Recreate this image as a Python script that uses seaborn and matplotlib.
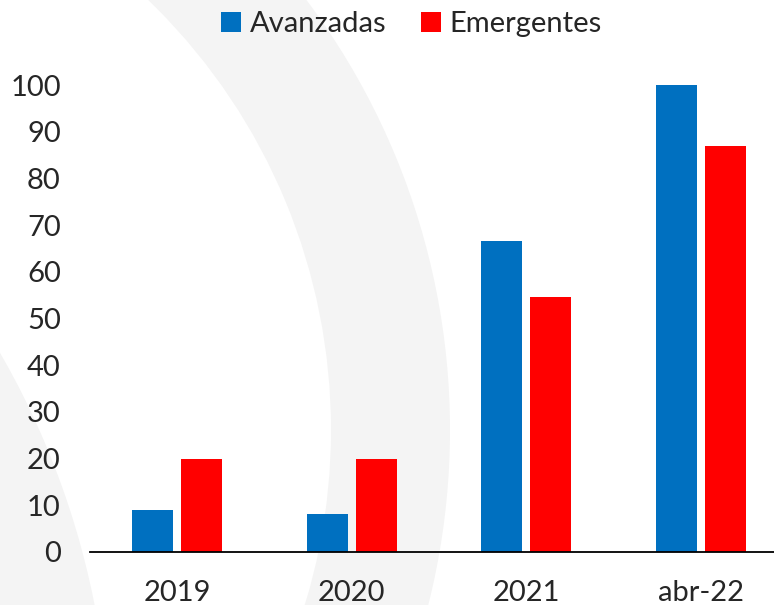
import numpy as np
import matplotlib
matplotlib.use("Agg")
import matplotlib.pyplot as plt
from matplotlib.patches import Wedge, Circle
import pandas as pd
import seaborn as sns

sns.set_style("white")
plt.rcParams["font.family"] = ["Lato", "DejaVu Sans"]

periods = ["2019", "2020", "2021", "abr-22"]
avanzadas = [9.0, 8.2, 66.6, 100.0]
emergentes = [20.0, 20.0, 54.6, 87.0]
series_names = ["Avanzadas", "Emergentes"]
COLORS = {"Avanzadas": "#0070C0", "Emergentes": "#FF0000"}

df = pd.DataFrame({
    "period": periods * 2,
    "value": avanzadas + emergentes,
    "series": [series_names[0]] * len(periods) + [series_names[1]] * len(periods),
})

W, H = 774, 605
fig = plt.figure(figsize=(W / 100, H / 100), dpi=100)

# faint watermark arcs in the background (pixel coordinates)
bg = fig.add_axes([0, 0, 1, 1], zorder=0)
bg.set_xlim(0, W)
bg.set_ylim(H, 0)
bg.axis("off")
bg.add_patch(Wedge((-266, 430), 716, 0, 360, width=119, color="#f4f4f4", lw=0))
bg.add_patch(Circle((-710, 763), 820, color="#f4f4f4", lw=0))

# main plot area: left edge 90px, x=0 at 552px, 100 at 85px
ax = fig.add_axes([90 / W, (H - 552) / H, 698 / W, (552 - 85) / H], zorder=1)
ax.set_facecolor("none")

sns.barplot(data=df, x="period", y="value", hue="series", order=periods,
            hue_order=series_names, palette=COLORS, width=0.56, gap=0.16,
            saturation=1, ax=ax, edgecolor="none", legend=True)

ax.set_ylim(0, 100)
ax.set_xlim(-0.5, 3.5)
ax.set_yticks(np.arange(0, 101, 10))
ax.set_xlabel("")
ax.set_ylabel("")
for s in ["top", "right", "left"]:
    ax.spines[s].set_visible(False)
ax.spines["bottom"].set_color("black")
ax.spines["bottom"].set_linewidth(1.3)
ax.tick_params(axis="y", length=0, pad=21, labelsize=21)
ax.tick_params(axis="x", length=0, pad=20, labelsize=21)

handles, labels = ax.get_legend_handles_labels()
ax.legend(handles, labels, loc="center", bbox_to_anchor=(411.5 / W, 1 - 24 / H),
          bbox_transform=fig.transFigure, ncol=2, frameon=False, fontsize=21,
          handlelength=0.69, handleheight=0.69, handletextpad=0.28,
          columnspacing=1.2, borderpad=0)

plt.savefig("out.png", dpi=100)
plt.close()
